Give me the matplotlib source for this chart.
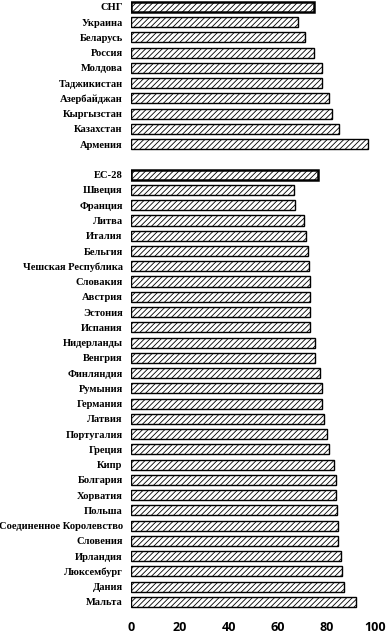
import matplotlib.pyplot as plt

# CIS countries (top group) and EU-28 (bottom group)
cis_labels = ["СНГ", "Украина", "Беларусь", "Россия", "Молдова", "Таджикистан",
              "Азербайджан", "Кыргызстан", "Казахстан", "Армения"]
cis_values = [75.0, 68.6, 71.3, 75.1, 78.4, 78.4, 81.1, 82.5, 85.4, 97.0]

eu_labels = ["ЕС-28", "Швеция", "Франция", "Литва", "Италия", "Бельгия",
             "Чешская Республика", "Словакия", "Австрия", "Эстония", "Испания",
             "Нидерланды", "Венгрия", "Финляндия", "Румыния", "Германия", "Латвия",
             "Португалия", "Греция", "Кипр", "Болгария", "Хорватия", "Польша",
             "Соединенное Королевство", "Словения", "Ирландия", "Люксембург",
             "Дания", "Мальта"]
eu_values = [76.8, 66.7, 67.3, 70.8, 71.7, 72.7, 73.1, 73.2, 73.5, 73.5, 73.2,
             75.3, 75.5, 77.6, 78.4, 78.4, 79.2, 80.3, 81.0, 83.2, 84.0, 83.9,
             84.3, 84.8, 84.7, 86.1, 86.6, 87.4, 92.2]

xticks = [0, 20, 40, 60, 80, 100]

plt.rcParams['hatch.linewidth'] = 0.6

fig = plt.figure(figsize=(3.87, 6.34), dpi=100)
ax = fig.add_axes([131 / 387, 0.0385, 244 / 387, 0.9615])

# one empty slot between the two groups
labels = cis_labels + [""] + eu_labels
values = cis_values + [None] + eu_values
totals = {"СНГ", "ЕС-28"}

for i, (lab, val) in enumerate(zip(labels, values)):
    if val is None:
        continue
    lw = 1.8 if lab in totals else 1.0
    ax.barh(i, val, height=0.66, color="white", edgecolor="black",
            hatch="//////", linewidth=lw)

ax.set_yticks([i for i, v in enumerate(values) if v is not None])
ax.set_yticklabels([l for l, v in zip(labels, values) if v is not None],
                   family="Liberation Serif", fontweight="bold", fontsize=7.6)
ax.set_ylim(39.5, -0.45)
ax.set_xlim(0, 100)
ax.set_xticks(xticks)
ax.set_xticklabels([str(t) for t in xticks], family="Open Sans",
                   fontweight="bold", fontsize=9)
ax.tick_params(axis="both", length=0)
ax.tick_params(axis="y", pad=6)
ax.tick_params(axis="x", pad=8)
for s in ax.spines.values():
    s.set_visible(False)

fig.savefig("out.png", dpi=100)
